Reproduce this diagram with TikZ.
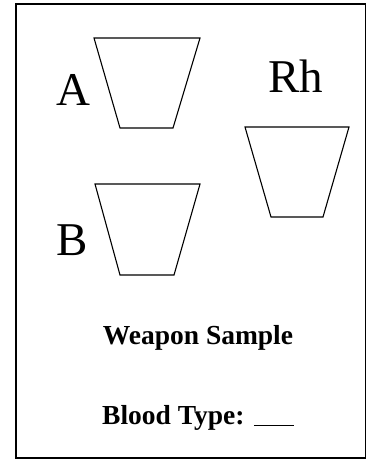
\documentclass[tikz,border=0pt]{standalone}
\usepackage{fontspec}
\setmainfont{Liberation Serif}

\begin{document}
\begin{tikzpicture}[x=1pt,y=-1pt,
  cup/.style={draw,line width=1.1pt,line join=miter},
  big/.style={font=\fontsize{47}{50}\selectfont,inner sep=0pt},
  caption/.style={font=\fontsize{27.5}{30}\selectfont\bfseries,inner sep=0pt}]
 \useasboundingbox (0,0) rectangle (366,468);
 % Card frame
 \draw[line width=1.2pt] (16,4) rectangle (365.5,458);
 % Test wells
 \draw[cup] (94,38) -- (200,38) -- (173,128) -- (120,128) -- cycle;
 \draw[cup] (95,184) -- (200,184) -- (174,275) -- (120,275) -- cycle;
 \draw[cup] (245,127) -- (349,127) -- (323,217) -- (271,217) -- cycle;
 % Labels
 \node[big,anchor=base] (antiA) at (73,106) {A};
 \node[big,anchor=base] (antiB) at (72,255) {B};
 \node[big,anchor=base] (rh) at (296,93) {Rh};
 \node[caption,anchor=base] (title) at (198,344) {Weapon Sample};
 \node[caption,anchor=base] (type) at (198,424) {Blood Type: \rule[-2pt]{40pt}{0.9pt}};
\end{tikzpicture}
\end{document}
